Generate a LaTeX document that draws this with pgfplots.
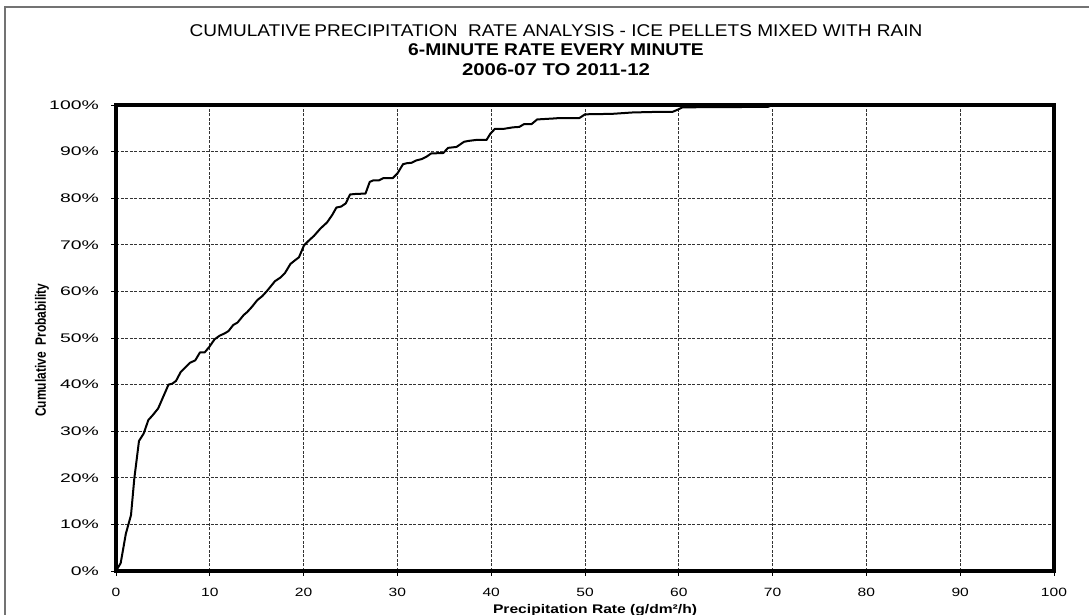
\documentclass[border=0pt]{standalone}
\usepackage{pgfplots}
\pgfplotsset{compat=1.18}
\usepackage{fontspec}
\setmainfont{Liberation Sans}
\usepackage{graphicx}
\newcommand{\hx}[1]{\scalebox{1.3}[1]{#1}}
\newcommand{\hy}[1]{\scalebox{1.55}[1]{#1}}

\begin{document}
\begin{tikzpicture}[x=1pt,y=1pt]
\useasboundingbox (0,0) rectangle (1089,615);
\fill[white] (0,0) rectangle (1089,615);
\draw[black!55, line width=1.2pt] (5,-2) -- (5,608) -- (1091,608);
\node[font=\fontsize{17}{20}\selectfont] at (556,584) {\scalebox{1.12}[1]{CUMULATIVE\kern3pt PRECIPITATION\ \ RATE ANALYSIS - ICE PELLETS MIXED WITH RAIN}};
\node[font=\fontsize{17}{20}\selectfont\bfseries] at (556,565) {\scalebox{1.13}[1]{6-MINUTE RATE EVERY MINUTE}};
\node[font=\fontsize{17}{20}\selectfont\bfseries] at (556,545) {\scalebox{1.2}[1]{2006-07 TO 2011-12}};
\begin{axis}[
  at={(116pt,44pt)}, anchor=south west,
  scale only axis, width=938pt, height=466pt,
  xmin=0, xmax=100, ymin=0, ymax=100,
  xtick={0,10,...,100}, ytick={0,10,...,100},
  xticklabels={\hx{0},\hx{10},\hx{20},\hx{30},\hx{40},\hx{50},\hx{60},\hx{70},\hx{80},\hx{90},\hx{100}},
  yticklabels={\hy{0\%},\hy{10\%},\hy{20\%},\hy{30\%},\hy{40\%},\hy{50\%},\hy{60\%},\hy{70\%},\hy{80\%},\hy{90\%},\hy{100\%}},
  xticklabel style={font=\fontsize{12}{14}\selectfont, anchor=center, inner sep=0pt, yshift=-16pt},
  yticklabel style={font=\fontsize{12.5}{14}\selectfont, anchor=east, inner sep=0pt, xshift=-12pt},
  tick align=outside, major tick length=5pt,
  tick style={black, line width=0.9pt},
  xtick pos=bottom, ytick pos=left,
  axis line style={black, line width=3.6pt},
  grid=major,
  major grid style={black!80, line width=0.9pt, dash pattern=on 3pt off 1.5pt},
  xlabel={\scalebox{1.25}[1]{Precipitation Rate (g/dm²/h)}},
  xlabel style={font=\fontsize{12.5}{14}\selectfont\bfseries, at={(axis description cs:0.5107,0)}, anchor=center, yshift=-39pt},
  ylabel={\scalebox{1}[1.25]{Cumulative\ \ Probability}},
  ylabel style={font=\fontsize{12}{14}\selectfont\bfseries, at={(axis description cs:-0.0789,0.474)}, anchor=center},
]
\addplot[black, line width=2pt, line join=round] coordinates {
(0,0) (0.5,1.7) (1.05,8.0) (1.6,12.0) (1.95,19.8) (2.45,27.9) (2.95,29.5) (3.45,32.4)
(3.9,33.4) (4.5,34.9) (4.95,37.0) (5.6,40.0) (6.0,40.2) (6.4,40.8) (6.9,42.7) (7.45,43.8)
(7.9,44.7) (8.45,45.2) (8.95,46.9) (9.45,46.9) (9.95,48.1) (10.5,49.7) (11.05,50.5)
(11.6,51.0) (12.0,51.5) (12.5,52.8) (12.95,53.3) (13.6,54.9) (14.0,55.6) (14.5,56.7)
(15.05,58.1) (15.6,59.0) (16.1,60.1) (16.95,62.2) (17.55,63.0) (18.0,63.9) (18.6,65.9)
(19.1,66.7) (19.5,67.3) (20.05,69.9) (20.5,70.8) (21.1,71.9) (21.8,73.5) (22.5,74.8)
(23.05,76.4) (23.5,78.0) (24.0,78.2) (24.5,78.9) (24.95,80.8) (25.5,80.9) (26.6,81.0)
(27.05,83.5) (27.4,83.8) (28.0,83.8) (28.5,84.3) (29.5,84.3) (30.0,85.3) (30.6,87.3)
(31.0,87.5) (31.5,87.6) (32.0,88.1) (32.6,88.4) (33.1,88.9) (33.6,89.6) (34.9,89.7)
(35.4,90.8) (36.3,91.0) (37.1,92.1) (37.6,92.3) (38.4,92.5) (39.5,92.5) (39.9,93.8)
(40.4,94.9) (41.4,94.9) (42.3,95.2) (43.0,95.3) (43.5,95.9) (44.3,95.9) (44.9,96.9)
(46.6,97.1) (47.3,97.2) (49.4,97.2) (50.0,98.0) (52.9,98.1) (55.1,98.4) (57.2,98.5)
(59.3,98.5) (60.0,99.1) (60.4,99.5) (69.5,99.6) (70.0,100)
};
\end{axis}
\end{tikzpicture}
\end{document}
